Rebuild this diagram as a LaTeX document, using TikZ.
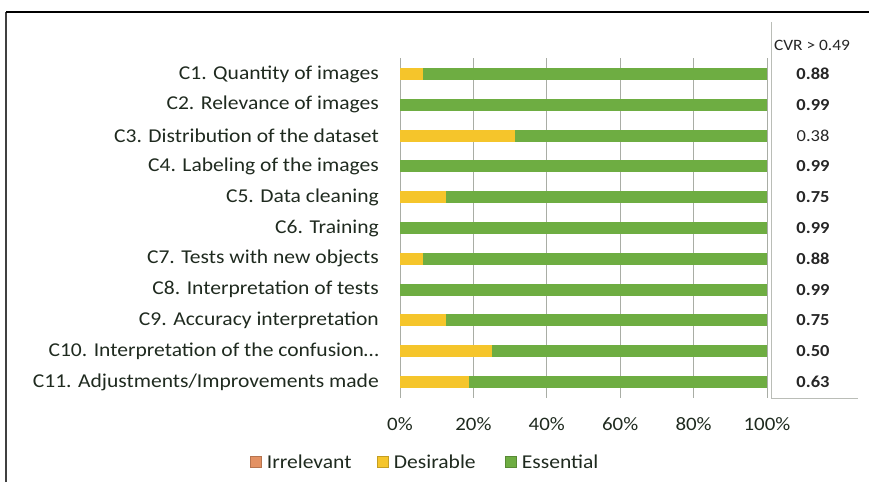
\documentclass[tikz,border=0pt]{standalone}
\usepackage{fontspec}
\setmainfont{Carlito}[FakeStretch=1.1]
\usetikzlibrary{positioning}
\definecolor{essential}{HTML}{6EAD42}
\definecolor{desirable}{HTML}{F5C52B}
\definecolor{irrelevant}{HTML}{E39163}
\definecolor{txtcol}{HTML}{1F2A1F}
\definecolor{gridcol}{HTML}{A9ADA5}

\tikzset{
  critlabel/.style={anchor=east,text=txtcol,font=\fontsize{19.6}{19.6}\selectfont,inner sep=0pt},
  cvrlabel/.style={text=black!85,font=\fontsize{16.8}{16.8}\selectfont,inner sep=0pt},
  ticklabel/.style={text=txtcol,font=\fontsize{19}{19}\selectfont,inner sep=0pt},
  keybox/.style={minimum size=11pt,inner sep=0pt,draw=#1!80!black,fill=#1},
  keytext/.style={right=5pt,text=txtcol,font=\fontsize{19.6}{19.6}\selectfont,inner sep=0pt}
}

\begin{document}
\begin{tikzpicture}[x=1pt,y=-1pt]
  \useasboundingbox (0,0) rectangle (869,482);
  % frame
  \draw [line width=1.1pt,black!75] (6,482) -- (6,12);
  \draw [line width=1.1pt] (6,12) -- (869,12);

  % grid and tick labels
  \foreach \k in {0,1,...,5} {
    \draw [gridcol,line width=0.9pt] ({400+73.4*\k},58) -- ({400+73.4*\k},398);
    \node [ticklabel] (tick\k) at ({400+73.4*\k},424) {\the\numexpr20*\k\relax\%};
  }

  % criteria: label / desirable votes (of 16) / CVR / weight
  \foreach \txt/\d/\cvr/\wt [count=\i] in {
      {C1. Quantity of images}/1/0.88/\bfseries,
      {C2. Relevance of images}/0/0.99/\bfseries,
      {C3. Distribution of the dataset}/5/0.38/\mdseries,
      {C4. Labeling of the images}/0/0.99/\bfseries,
      {C5. Data cleaning}/2/0.75/\bfseries,
      {C6. Training}/0/0.99/\bfseries,
      {C7. Tests with new objects}/1/0.88/\bfseries,
      {C8. Interpretation of tests}/0/0.99/\bfseries,
      {C9. Accuracy interpretation}/2/0.75/\bfseries,
      {C10. Interpretation of the confusion…}/4/0.50/\bfseries,
      {C11. Adjustments/Improvements made}/3/0.63/\bfseries} {
    \pgfmathsetmacro{\yy}{74+30.8*(\i-1)}
    \pgfmathsetmacro{\xd}{400+367*\d/16}
    \fill [desirable] (400,\yy-6) rectangle (\xd,\yy+6);
    \fill [essential] (\xd,\yy-6) rectangle (767,\yy+6);
    \node [critlabel] (crit\i) at (379,\yy) {\txt};
    \node [cvrlabel,font=\fontsize{16.8}{16.8}\selectfont\wt] (cvr\i) at (813,\yy) {\cvr};
  }

  % CVR column
  \draw [gridcol!80,line width=0.8pt] (771,22) -- (771,398) -- (858,398);
  \node [cvrlabel,font=\fontsize{15.8}{15.8}\selectfont] (cvrhead) at (812,45) {CVR > 0.49};

  % legend
  \node [keybox=irrelevant] (keyirr) at (256,462) {};
  \node [keytext] (txtirr) at (keyirr.east) {Irrelevant};
  \node [keybox=desirable] (keydes) at (383,462) {};
  \node [keytext] (txtdes) at (keydes.east) {Desirable};
  \node [keybox=essential] (keyess) at (511,462) {};
  \node [keytext] (txtess) at (keyess.east) {Essential};
\end{tikzpicture}
\end{document}
